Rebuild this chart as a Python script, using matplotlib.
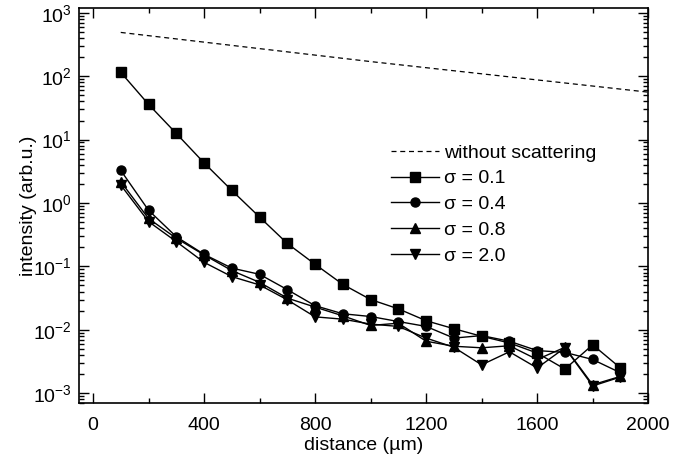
import matplotlib
matplotlib.use("Agg")
import matplotlib.pyplot as plt
from matplotlib.ticker import FixedLocator, LogLocator, MultipleLocator, NullFormatter

plt.rcParams["font.family"] = ["Liberation Sans", "DejaVu Sans"]
plt.rcParams["mathtext.fontset"] = "custom"
plt.rcParams["mathtext.rm"] = "Liberation Sans"
plt.rcParams["mathtext.it"] = "Liberation Sans:italic"

# distance (um)
distance = [100, 200, 300, 400, 500, 600, 700, 800, 900, 1000,
            1100, 1200, 1300, 1400, 1500, 1600, 1700, 1800, 1900]

no_scatter_x = [100, 1000, 2000]
no_scatter_y = [490, 170, 56]

sigma_01 = [115, 36, 12.5, 4.3, 1.58, 0.60, 0.23, 0.108, 0.052, 0.030,
            0.0214, 0.0139, 0.0104, 0.0079, 0.0062, 0.0043, 0.0024, 0.0058, 0.0025]
sigma_04 = [3.27, 0.77, 0.294, 0.155, 0.094, 0.075, 0.043, 0.024, 0.0179, 0.0162,
            0.0135, 0.0113, 0.0074, 0.0081, 0.0066, 0.0047, 0.0044, 0.0034, 0.0021]
sigma_08 = [2.17, 0.57, 0.278, 0.152, 0.086, 0.056, 0.0316, 0.0228, 0.0166, 0.0117,
            0.0127, 0.0066, 0.0055, 0.0052, 0.0056, 0.0034, 0.0053, 0.00136, 0.00184]
sigma_20 = [1.92, 0.51, 0.246, 0.116, 0.069, 0.051, 0.0297, 0.016, 0.0147, 0.0123,
            0.0113, 0.0074, 0.0053, 0.0028, 0.0045, 0.0025, 0.0052, 0.0013, 0.0018]

y_major = [1e-3, 1e-2, 1e-1, 1e0, 1e1, 1e2, 1e3]

series = [
    (sigma_01, "s", "σ = 0.1"),
    (sigma_04, "o", "σ = 0.4"),
    (sigma_08, "^", "σ = 0.8"),
    (sigma_20, "v", "σ = 2.0"),
]

fig = plt.figure(figsize=(7, 4.65), dpi=100)
ax = fig.add_axes([0.113, 0.1333, 0.813, 0.85])

ax.plot(no_scatter_x, no_scatter_y, color="black", lw=0.9,
        linestyle=(0, (4, 3)), label="without scattering")
for vals, marker, label in series:
    ax.plot(distance, vals, color="black", lw=1.0, marker=marker,
            markersize=6.5, label=label)

ax.set_yscale("log")
ax.set_xlim(-50, 2000)
ax.set_ylim(7e-4, 1.2e3)

ax.xaxis.set_major_locator(MultipleLocator(400))
ax.xaxis.set_minor_locator(MultipleLocator(200))
ax.yaxis.set_major_locator(FixedLocator(y_major))
ax.yaxis.set_minor_locator(LogLocator(base=10, subs=range(2, 10), numticks=20))
ax.yaxis.set_minor_formatter(NullFormatter())

ax.tick_params(which="both", direction="in", top=True, right=True,
               width=1.0, labelsize=14)
ax.tick_params(which="major", length=7)
ax.tick_params(which="minor", length=3.5)
ax.tick_params(axis="x", pad=10)
ax.tick_params(axis="y", pad=5)
for sp in ax.spines.values():
    sp.set_linewidth(1.2)

ax.set_xlabel("distance (µm)", fontsize=14, labelpad=2)
ax.set_ylabel("intensity (arb.u.)", fontsize=14, labelpad=-3)

ax.legend(loc="upper left", bbox_to_anchor=(0.534, 0.675), frameon=False,
          fontsize=14, handlelength=2.5, handletextpad=0.25,
          labelspacing=0.42, borderaxespad=0)

fig.savefig("out.png", dpi=100)
